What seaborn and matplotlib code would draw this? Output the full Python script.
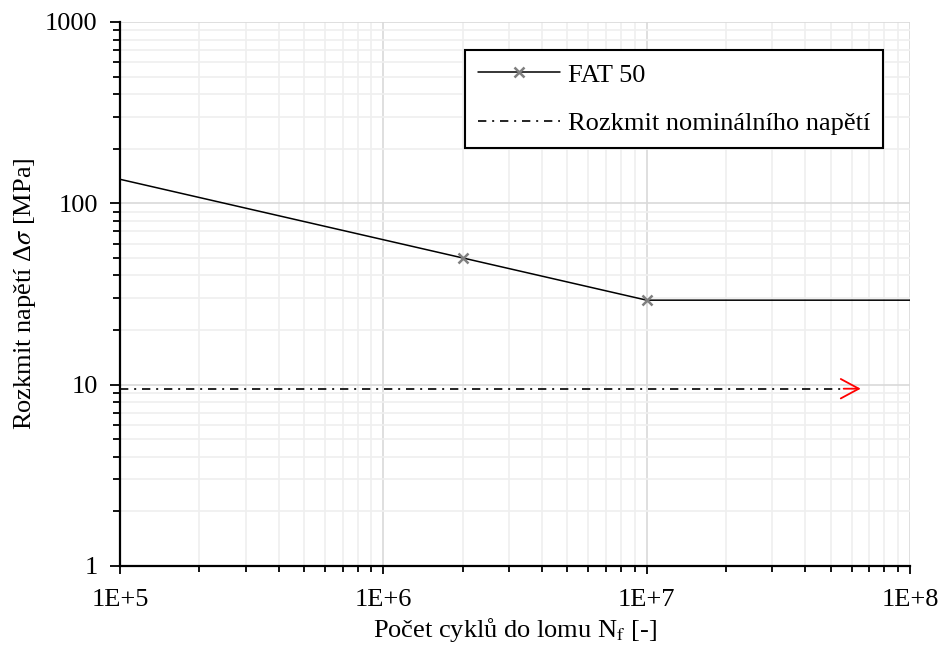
import numpy as np
import pandas as pd
import matplotlib
matplotlib.use("Agg")
import matplotlib.pyplot as plt
from matplotlib.ticker import LogLocator, NullFormatter, FixedLocator, FixedFormatter
import seaborn as sns

# ---- data ----
fat_cycles = [1e5, 2e6, 1e7, 1e8]
fat_stress = [135.7, 50.0, 29.24, 29.24]
nominal_cycles = [1e5, 5.6e7]
nominal_stress = [9.5, 9.5]
arrow_end_cycles = 6.5e7
x_ticks = [1e5, 1e6, 1e7, 1e8]
x_tick_labels = ["1E+5", "1E+6", "1E+7", "1E+8"]
y_ticks = [1, 10, 100, 1000]
y_tick_labels = ["1", "10", "100", "1000"]
series_names = ["FAT 50", "Rozkmit nominálního napětí"]

sns.set_theme(style="white")
plt.rcParams['font.family'] = ['Liberation Serif', 'DejaVu Serif']
plt.rcParams['mathtext.fontset'] = 'stix'
plt.rcParams['text.color'] = 'black'
plt.rcParams['axes.labelcolor'] = 'black'
plt.rcParams['xtick.color'] = 'black'
plt.rcParams['ytick.color'] = 'black'

FS = 19

fig = plt.figure(figsize=(9.41, 6.45), dpi=100)
ax = fig.add_axes([120/941, 79/645, 790/941, 544/645])

df_fat = pd.DataFrame({"x": fat_cycles, "y": fat_stress})
df_nom = pd.DataFrame({"x": nominal_cycles, "y": nominal_stress})

sns.lineplot(data=df_fat, x="x", y="y", ax=ax, color="black", lw=1.1,
             estimator=None, sort=False, marker="x", markevery=[1, 2],
             markersize=6.5, markeredgecolor="#7f7f7f", markeredgewidth=1.8,
             label=series_names[0])
sns.lineplot(data=df_nom, x="x", y="y", ax=ax, color="black", lw=1.2,
             estimator=None, sort=False, linestyle=(0, (5.0, 3.5, 1.2, 3.5)),
             label=series_names[1])

ax.annotate("", xy=(arrow_end_cycles, nominal_stress[-1]),
            xytext=(nominal_cycles[-1], nominal_stress[-1]),
            arrowprops=dict(arrowstyle="->,head_length=0.65,head_width=0.35",
                            color="red", lw=1.3, mutation_scale=20,
                            shrinkA=0, shrinkB=0))

ax.set_xscale("log")
ax.set_yscale("log")
ax.set_xlim(1e5, 1e8)
ax.set_ylim(1, 1000)

ax.xaxis.set_major_locator(FixedLocator(x_ticks))
ax.xaxis.set_major_formatter(FixedFormatter(x_tick_labels))
ax.yaxis.set_major_locator(FixedLocator(y_ticks))
ax.yaxis.set_major_formatter(FixedFormatter(y_tick_labels))
ax.xaxis.set_minor_locator(LogLocator(base=10, subs=np.arange(2, 10)))
ax.yaxis.set_minor_locator(LogLocator(base=10, subs=np.arange(2, 10)))
ax.xaxis.set_minor_formatter(NullFormatter())
ax.yaxis.set_minor_formatter(NullFormatter())

ax.grid(True, which="major", color="#d9d9d9", lw=1.2)
ax.grid(True, which="minor", color="#efefef", lw=1.2)
ax.set_axisbelow(True)

for s in ["top", "right"]:
    ax.spines[s].set_visible(False)
for s in ["left", "bottom"]:
    ax.spines[s].set_color("black")
    ax.spines[s].set_linewidth(1.6)

ax.tick_params(axis="x", which="major", direction="out", length=5.5, width=1.3,
               color="black", labelcolor="black", labelsize=FS, bottom=True, pad=11)
ax.tick_params(axis="x", which="minor", direction="out", length=4.5, width=1.3,
               color="black", bottom=True)
ax.tick_params(axis="y", which="major", direction="out", length=7, width=1.3,
               color="black", labelcolor="black", labelsize=FS, left=True, pad=9)
ax.tick_params(axis="y", which="minor", direction="out", length=5, width=1.3,
               color="black", left=True)

ax.set_xlabel("Počet cyklů do lomu N$_\\mathrm{f}$ [-]", fontsize=FS, labelpad=4,
              color="black")
ax.set_ylabel("Rozkmit napětí Δ$\\sigma$ [MPa]", fontsize=FS, labelpad=5,
              color="black")

leg = ax.legend(loc="upper right", bbox_to_anchor=(0.966, 0.9485),
                borderaxespad=0, fontsize=FS, frameon=True, fancybox=False,
                framealpha=1, edgecolor="black", handlelength=3.1,
                labelspacing=0.94, borderpad=0.5, handletextpad=0.3)
leg.get_frame().set_linewidth(1.5)
for t in leg.get_texts():
    t.set_color("black")

fig.savefig("out.png", dpi=100)
